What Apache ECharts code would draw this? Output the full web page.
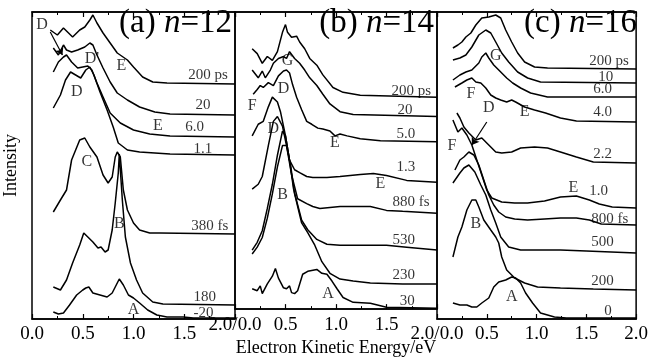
<!DOCTYPE html>
<html>
<head>
<meta charset="utf-8">
<script src="https://cdn.jsdelivr.net/npm/echarts@6/dist/echarts.min.js"></script>
<style>
  html, body { margin: 0; padding: 0; background: #fff; }
  #chart { width: 651px; height: 362px; }
</style>
</head>
<body>
<div id="chart"></div>
<script>
// x axis ticks, eV
const energyTicks = [0, 0.5, 1.0, 1.5, 2.0];

// spectra: [electron kinetic energy (eV), intensity incl. vertical offset]
// (a) n=12
const a200ps = [[0.18,289],[0.25,284],[0.31,291],[0.35,287],[0.40,282],[0.47,289],[0.52,292],[0.57,299],[0.60,304],[0.64,296],[0.70,286],[0.77,276],[0.84,266],[0.94,259],[1.00,252],[1.09,242],[1.19,237],[1.33,236],[2.0,235]];
const a20ps = [[0.21,271],[0.26,264],[0.31,274],[0.34,269],[0.39,267],[0.45,269],[0.52,272],[0.57,276],[0.60,274],[0.64,264],[0.70,251],[0.77,237],[0.84,226],[0.94,219],[1.06,212],[1.21,207],[1.36,205],[2.0,204]];
const a6ps = [[0.21,247],[0.26,257],[0.31,262],[0.34,264],[0.39,257],[0.45,251],[0.50,252],[0.55,253],[0.59,249],[0.64,236],[0.70,222],[0.77,206],[0.87,196],[1.00,189],[1.16,185],[1.36,183],[2.0,182]];
const a1ps = [[0.21,211],[0.28,224],[0.33,239],[0.38,247],[0.43,244],[0.48,241],[0.53,249],[0.57,252],[0.61,244],[0.67,227],[0.74,209],[0.80,192],[0.85,176],[0.94,169],[1.06,167],[1.36,165],[2.0,164]];
const a380fs = [[0.21,107],[0.28,119],[0.34,129],[0.39,159],[0.47,179],[0.52,181],[0.57,172],[0.64,162],[0.70,144],[0.75,136],[0.79,142],[0.82,162],[0.84,167],[0.87,162],[0.90,129],[0.94,109],[1.00,96],[1.06,89],[1.16,86],[1.26,86],[2.0,85]];
const a180fs = [[0.21,32],[0.28,29],[0.34,39],[0.40,56],[0.47,74],[0.51,86],[0.55,82],[0.60,77],[0.65,71],[0.68,72],[0.72,67],[0.75,69],[0.79,89],[0.82,116],[0.85,146],[0.86,165],[0.89,119],[0.92,82],[0.97,56],[1.03,39],[1.09,26],[1.19,17],[1.29,15],[2.0,14]];
const aM20fs = [[0.21,7],[0.26,5],[0.31,6],[0.37,14],[0.44,24],[0.50,29],[0.53,31],[0.56,32],[0.60,26],[0.67,24],[0.74,22],[0.79,26],[0.82,32],[0.86,40],[0.90,34],[0.95,24],[1.00,21],[1.06,16],[1.14,9],[1.23,4],[1.33,2],[1.49,2],[1.59,1],[2.0,1]];

// (b) n=14
const b200ps = [[0.17,269],[0.22,264],[0.27,254],[0.32,261],[0.37,257],[0.42,266],[0.47,286],[0.50,294],[0.52,286],[0.56,281],[0.61,282],[0.64,276],[0.69,269],[0.74,259],[0.81,252],[0.87,242],[0.97,229],[1.07,224],[1.24,221],[2.0,219]];
const b20ps = [[0.17,247],[0.23,239],[0.27,246],[0.30,239],[0.35,247],[0.38,254],[0.43,259],[0.48,261],[0.51,259],[0.54,266],[0.59,259],[0.64,254],[0.69,247],[0.74,239],[0.81,231],[0.87,222],[0.94,212],[1.04,204],[1.17,201],[2.0,199]];
const b5ps = [[0.18,222],[0.22,227],[0.25,231],[0.28,229],[0.33,234],[0.38,231],[0.43,241],[0.48,246],[0.51,247],[0.54,244],[0.57,232],[0.61,219],[0.66,206],[0.71,194],[0.76,191],[0.82,187],[0.87,186],[0.94,184],[0.99,179],[1.04,181],[1.11,179],[1.24,176],[1.44,174],[2.0,173]];
const b1ps = [[0.17,179],[0.23,191],[0.28,194],[0.33,209],[0.37,219],[0.42,214],[0.45,204],[0.50,179],[0.54,154],[0.59,144],[0.64,141],[0.71,137],[0.77,136],[0.91,136],[1.04,137],[1.24,139],[1.37,140],[1.50,138],[1.70,133],[2.0,131]];
const b880fs = [[0.17,124],[0.23,129],[0.27,137],[0.33,169],[0.38,194],[0.42,199],[0.47,189],[0.51,169],[0.56,139],[0.62,114],[0.71,109],[0.77,106],[0.84,104],[1.04,106],[1.17,106],[1.34,106],[1.50,102],[1.66,101],[2.0,99]];
const b530fs = [[0.17,61],[0.22,69],[0.27,81],[0.32,104],[0.37,129],[0.42,159],[0.47,184],[0.50,179],[0.54,154],[0.58,124],[0.66,92],[0.72,82],[0.81,72],[0.91,67],[1.04,66],[1.24,66],[1.50,66],[1.70,64],[2.0,61]];
const b230fs = [[0.17,57],[0.22,64],[0.27,74],[0.32,94],[0.37,119],[0.42,147],[0.47,169],[0.51,169],[0.55,149],[0.59,119],[0.66,89],[0.72,79],[0.79,66],[0.86,49],[0.94,37],[1.04,31],[1.17,29],[1.34,27],[1.66,26],[2.0,26]];
const b30fs = [[0.17,21],[0.22,19],[0.25,24],[0.27,16],[0.32,26],[0.37,34],[0.40,42],[0.43,32],[0.48,22],[0.51,21],[0.54,24],[0.56,17],[0.59,16],[0.62,19],[0.67,36],[0.72,39],[0.81,41],[0.86,37],[0.91,36],[0.96,29],[1.01,21],[1.07,12],[1.17,7],[1.34,6],[1.50,2],[2.0,1]];

// (c) n=16
const c200ps = [[0.16,271],[0.21,274],[0.25,277],[0.29,282],[0.34,286],[0.39,294],[0.45,301],[0.52,302],[0.59,304],[0.64,301],[0.69,289],[0.75,277],[0.81,266],[0.88,257],[0.98,252],[1.11,251],[2.0,250]];
const c10ps = [[0.16,259],[0.23,261],[0.29,264],[0.35,272],[0.42,284],[0.49,289],[0.54,286],[0.59,277],[0.65,266],[0.72,257],[0.81,247],[0.91,241],[1.04,237],[2.0,236]];
const c6ps = [[0.16,239],[0.23,244],[0.29,247],[0.35,249],[0.42,256],[0.45,262],[0.49,266],[0.52,261],[0.57,254],[0.64,247],[0.70,241],[0.76,236],[0.84,231],[0.94,226],[1.11,222],[2.0,222]];
const c4ps = [[0.18,232],[0.25,236],[0.30,239],[0.35,241],[0.39,237],[0.44,236],[0.49,231],[0.54,224],[0.59,221],[0.64,219],[0.70,217],[0.75,219],[0.79,217],[0.88,212],[0.98,209],[1.09,206],[1.24,201],[1.40,198],[2.0,197]];
const c2ps = [[0.20,206],[0.23,201],[0.27,192],[0.32,186],[0.39,179],[0.45,181],[0.52,174],[0.59,167],[0.65,166],[0.75,167],[0.84,171],[0.98,172],[1.11,171],[1.24,167],[1.40,162],[1.57,157],[2.0,156]];
const c1ps = [[0.16,199],[0.21,187],[0.25,191],[0.30,184],[0.35,174],[0.40,159],[0.45,144],[0.50,129],[0.55,121],[0.65,117],[0.78,116],[0.91,116],[1.08,118],[1.24,122],[1.40,123],[1.53,119],[1.63,115],[1.76,112],[2.0,111]];
const c800fs = [[0.18,149],[0.23,159],[0.27,162],[0.32,167],[0.37,164],[0.42,154],[0.47,139],[0.52,124],[0.57,114],[0.62,107],[0.69,102],[0.78,100],[0.91,99],[1.08,100],[1.24,101],[1.40,101],[1.53,99],[1.65,95],[2.0,94]];
const c500fs = [[0.16,136],[0.23,146],[0.27,151],[0.32,154],[0.38,147],[0.44,134],[0.49,124],[0.54,109],[0.59,96],[0.64,82],[0.72,72],[0.84,69],[1.01,69],[1.24,69],[1.50,68],[2.0,66]];
const c200fs = [[0.16,62],[0.21,82],[0.25,92],[0.30,109],[0.35,119],[0.39,119],[0.42,112],[0.47,99],[0.54,89],[0.59,82],[0.62,76],[0.65,62],[0.70,49],[0.78,41],[0.88,36],[1.01,32],[1.24,31],[1.57,30],[2.0,29]];
const c0fs = [[0.16,16],[0.23,14],[0.25,16],[0.30,14],[0.35,12],[0.40,12],[0.45,16],[0.52,21],[0.57,32],[0.62,37],[0.69,39],[0.75,42],[0.79,41],[0.84,36],[0.89,26],[0.96,16],[1.04,6],[1.18,2],[1.30,1],[2.0,1]];

// delay labels and the spectra they belong to
const delaysA = ['200 ps', '20', '6.0', '1.1', '380 fs', '180', '-20'];
const delaysB = ['200 ps', '20', '5.0', '1.3', '880 fs', '530', '230', '30'];
const delaysC = ['200 ps', '10', '6.0', '4.0', '2.2', '1.0', '800 fs', '500', '200', '0'];
const spectraA = [a200ps, a20ps, a6ps, a1ps, a380fs, a180fs, aM20fs];
const spectraB = [b200ps, b20ps, b5ps, b1ps, b880fs, b530fs, b230fs, b30fs];
const spectraC = [c200ps, c10ps, c6ps, c4ps, c2ps, c1ps, c800fs, c500fs, c200fs, c0fs];

// where the delay labels sit (left edge, middle)
const delayPosA = [[1.54,244],[1.61,214],[1.51,192],[1.59,170],[1.57,93],[1.59,22],[1.59,6]];
const delayPosB = [[1.55,225],[1.61,206],[1.60,181],[1.60,147],[1.56,111],[1.56,71],[1.56,35],[1.63,8]];
const delayPosC = [[1.53,258],[1.62,242],[1.57,230],[1.57,207],[1.57,165],[1.53,128],[1.55,100],[1.55,77],[1.55,38],[1.68,8]];

// band letters
const peaksA = [['D',0.10,294],["D'",0.59,260],['E',0.88,253],['D',0.44,227],['E',1.24,193],['C',0.54,157],['B',0.86,95],['A',1.00,9]];
const peaksB = [['G',0.52,257],['D',0.48,228],['F',0.17,210],['D',0.38,186],['E',0.99,172],['E',1.44,129],['B',0.47,118],['A',0.92,16]];
const peaksC = [['G',0.59,263],['F',0.34,225],['D',0.52,211],['E',0.88,207],['F',0.15,173],['E',1.37,131],['B',0.39,95],['A',0.75,22]];

// arrows from a letter to its band
const arrowsA = [[[0.18,287],[0.30,264]]];
const arrowsB = [];
const arrowsC = [[[0.50,197],[0.35,174]]];

const panelNames = ['(a) {i|n}=12', '(b) {i|n}=14', '(c) {i|n}=16'];

const serif = '"Liberation Serif", "Times New Roman", serif';
const panels = [
    { left: 32, width: 203, spectra: spectraA, delays: delaysA, delayPos: delayPosA, peaks: peaksA, arrows: arrowsA, titleRight: 419 },
    { left: 235, width: 202, spectra: spectraB, delays: delaysB, delayPos: delayPosB, peaks: peaksB, arrows: arrowsB, titleRight: 217 },
    { left: 437, width: 204, spectra: spectraC, delays: delaysC, delayPos: delayPosC, peaks: peaksC, arrows: arrowsC, titleRight: 14 }
];

const grid = [];
const xAxis = [];
const yAxis = [];
const series = [];
const title = [];

panels.forEach(function(p, gi) {
    grid.push({ left: p.left, width: p.width, top: 12, height: 307, show: true, borderColor: '#000', borderWidth: 1.5 });

    const tickStyle = { show: true, inside: true, length: 5, lineStyle: { color: '#000', width: 1.2 } };
    const minorStyle = { show: true, splitNumber: 2, length: 3, lineStyle: { color: '#000', width: 1 } };

    xAxis.push({
        type: 'value', gridIndex: gi, position: 'bottom',
        min: energyTicks[0], max: energyTicks[energyTicks.length - 1], interval: 0.5,
        axisLine: { show: true, onZero: false, lineStyle: { color: '#000', width: 1.5 } },
        axisTick: tickStyle,
        minorTick: minorStyle,
        splitLine: { show: false },
        axisLabel: {
            color: '#000', fontFamily: serif, fontSize: 19, margin: 6,
            showMinLabel: true,
            showMaxLabel: gi === 2,
            hideOverlap: false,
            // shared border: "2.0/0.0" sits centred on it
            formatter: function(v) {
                if (v === 0 && gi > 0) return '2.0/0.0';
                return v.toFixed(1);
            }
        },
        name: gi === 1 ? 'Electron Kinetic Energy/eV' : '',
        nameLocation: 'middle', nameGap: 22,
        nameTextStyle: { color: '#000', fontFamily: serif, fontSize: 18 }
    });
    xAxis.push({
        type: 'value', gridIndex: gi, position: 'top',
        min: energyTicks[0], max: energyTicks[energyTicks.length - 1], interval: 0.5,
        axisLine: { show: true, onZero: false, lineStyle: { color: '#000', width: 1.5 } },
        axisTick: tickStyle,
        minorTick: minorStyle,
        splitLine: { show: false },
        axisLabel: { show: false }
    });
    yAxis.push({
        type: 'value', gridIndex: gi, min: 0, max: 307,
        axisLine: { show: false }, axisTick: { show: false }, axisLabel: { show: false },
        splitLine: { show: false },
        name: gi === 0 ? 'Intensity' : '',
        nameLocation: 'middle', nameGap: 12, nameRotate: 90,
        nameTextStyle: { color: '#000', fontFamily: serif, fontSize: 18 }
    });

    p.spectra.forEach(function(d) {
        series.push({
            type: 'line', xAxisIndex: gi * 2, yAxisIndex: gi,
            data: d, symbol: 'none', smooth: false, silent: true,
            lineStyle: { color: '#000', width: 1.5 }
        });
    });

    // delay labels
    series.push({
        type: 'scatter', xAxisIndex: gi * 2, yAxisIndex: gi, silent: true,
        symbolSize: 1, itemStyle: { color: 'rgba(0,0,0,0)' },
        data: p.delays.map(function(t, i) { return { name: t, value: p.delayPos[i] }; }),
        label: {
            show: true, position: 'inside', align: 'left', verticalAlign: 'middle',
            formatter: '{b}', color: '#000', fontFamily: serif, fontSize: 15
        }
    });

    // band letters + arrows
    series.push({
        type: 'scatter', xAxisIndex: gi * 2, yAxisIndex: gi, silent: true,
        symbolSize: 1, itemStyle: { color: 'rgba(0,0,0,0)' },
        data: p.peaks.map(function(k) { return { name: k[0], value: [k[1], k[2]] }; }),
        label: {
            show: true, position: 'inside', align: 'center', verticalAlign: 'middle',
            formatter: '{b}', color: '#000', fontFamily: serif, fontSize: 16
        },
        markLine: {
            silent: true, symbol: ['none', 'arrow'], symbolSize: 7,
            lineStyle: { color: '#000', width: 1.2, type: 'solid' },
            label: { show: false },
            data: p.arrows.map(function(a) { return [{ coord: a[0] }, { coord: a[1] }]; })
        }
    });

    title.push({
        text: panelNames[gi], right: p.titleRight, top: 7, padding: 0,
        textStyle: {
            color: '#000', fontFamily: serif, fontSize: 33, fontWeight: 'normal',
            rich: { i: { fontStyle: 'italic', fontFamily: serif, fontSize: 33, color: '#000' } }
        }
    });
});

const chart = echarts.init(document.getElementById('chart'), null, { renderer: 'canvas' });
chart.setOption({
    animation: false,
    backgroundColor: '#fff',
    title: title,
    grid: grid,
    xAxis: xAxis,
    yAxis: yAxis,
    series: series
});
</script>
</body>
</html>
